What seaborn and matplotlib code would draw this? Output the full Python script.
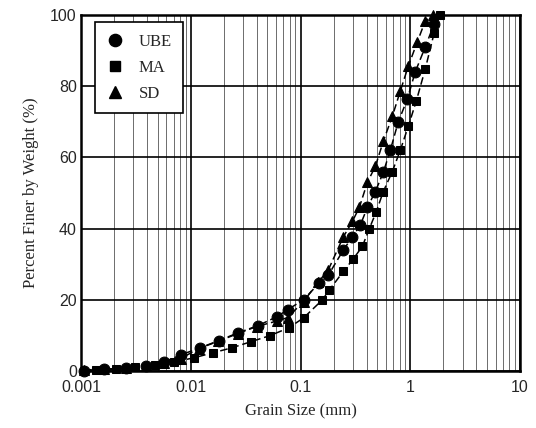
import numpy as np
import pandas as pd
import matplotlib
matplotlib.use("Agg")
import matplotlib.pyplot as plt
from matplotlib.lines import Line2D
from matplotlib.ticker import FixedLocator, LogLocator, NullFormatter
import seaborn as sns

# ---- data (grain size in mm, percent finer) ----
ube_size = [0.00107, 0.00162, 0.00257, 0.00390, 0.00568, 0.00811, 0.01207, 0.01797,
            0.0268, 0.0407, 0.0605, 0.0762, 0.1065, 0.1489, 0.1797, 0.246, 0.297,
            0.351, 0.407, 0.481, 0.568, 0.658, 0.778, 0.939, 1.11, 1.369, 1.653]
ube_pct = [0.0, 0.5, 0.8, 1.5, 2.5, 4.5, 6.5, 8.5, 10.7, 12.7, 15.2, 17.2, 20.0,
           24.8, 27.0, 34.0, 37.7, 41.0, 46.0, 50.4, 55.8, 62.0, 70.0, 76.3, 84.0,
           91.0, 97.5]

ma_size = [0.00137, 0.00208, 0.00310, 0.00471, 0.00701, 0.01065, 0.01585, 0.0236,
           0.0351, 0.0523, 0.0778, 0.1065, 0.1585, 0.1835, 0.246, 0.303, 0.366,
           0.424, 0.491, 0.568, 0.686, 0.811, 0.959, 1.134, 1.369, 1.653, 1.874]
ma_pct = [0.3, 0.5, 1.0, 1.7, 2.5, 3.7, 5.1, 6.5, 8.2, 9.9, 12.1, 14.9, 20.0, 22.8,
          28.0, 31.5, 35.0, 40.0, 44.8, 50.4, 56.0, 62.0, 68.7, 75.8, 84.8, 95.0, 100.0]

sd_size = [0.00107, 0.00162, 0.00257, 0.00390, 0.00568, 0.00811, 0.01182, 0.0176,
           0.0268, 0.0398, 0.0605, 0.0762, 0.1065, 0.1458, 0.1797, 0.246, 0.297,
           0.344, 0.407, 0.481, 0.568, 0.686, 0.811, 0.959, 1.158, 1.369, 1.619]
sd_pct = [0.3, 0.5, 0.8, 1.5, 2.3, 3.5, 6.3, 8.3, 10.5, 12.5, 14.0, 15.0, 19.5, 25.0,
          28.5, 37.7, 42.0, 46.0, 53.0, 57.5, 64.5, 71.5, 78.6, 85.6, 92.4, 98.3, 100.0]

series_names = ["UBE", "MA", "SD"]
x_ticks = [0.001, 0.01, 0.1, 1, 10]
x_tick_labels = ["0.001", "0.01", "0.1", "1", "10"]
y_ticks = [0, 20, 40, 60, 80, 100]

df = pd.concat([
    pd.DataFrame({"size": ube_size, "pct": ube_pct, "soil": "UBE"}),
    pd.DataFrame({"size": ma_size, "pct": ma_pct, "soil": "MA"}),
    pd.DataFrame({"size": sd_size, "pct": sd_pct, "soil": "SD"}),
], ignore_index=True)

sns.set_style("white")
plt.rcParams["font.family"] = ["Liberation Serif", "DejaVu Serif"]

fig = plt.figure(figsize=(5.36, 4.28), dpi=100)
ax = fig.add_axes([81 / 536, 1 - 371 / 428, (520 - 81) / 536, (371 - 15) / 428])

markers = {"UBE": "o", "MA": "s", "SD": "^"}
msizes = {"UBE": 7.8, "MA": 6.0, "SD": 7.2}
for name in series_names:
    sub = df[df["soil"] == name]
    sns.lineplot(data=sub, x="size", y="pct", ax=ax, color="black", sort=False,
                 estimator=None, linestyle=(0, (5, 2.5)), linewidth=1.1,
                 marker=markers[name], markersize=msizes[name],
                 markeredgecolor="black", markerfacecolor="black",
                 clip_on=False, zorder=5, legend=False)

ax.set_xscale("log")
ax.set_xlim(0.001, 10)
ax.set_ylim(0, 100)

ax.xaxis.set_major_locator(FixedLocator(x_ticks))
ax.set_xticklabels(x_tick_labels)
ax.xaxis.set_minor_locator(LogLocator(base=10, subs=np.arange(2, 10)))
ax.xaxis.set_minor_formatter(NullFormatter())
ax.set_yticks(y_ticks)
ax.set_yticklabels([str(v) for v in y_ticks])

ax.grid(True, which="major", axis="x", color="black", linewidth=1.2)
ax.grid(True, which="minor", axis="x", color="#555555", linewidth=0.6)
ax.grid(True, which="major", axis="y", color="black", linewidth=1.2)
ax.set_axisbelow(True)

for sp in ax.spines.values():
    sp.set_visible(True)
    sp.set_color("black")
    sp.set_linewidth(1.8)

ax.tick_params(axis="x", which="both", length=0, pad=6.5)
ax.tick_params(axis="y", which="both", length=0, pad=3)
for lab in ax.get_xticklabels() + ax.get_yticklabels():
    lab.set_family(["Liberation Sans", "DejaVu Sans"])
    lab.set_fontsize(11.5)

ax.set_xlabel("Grain Size (mm)", fontsize=12, labelpad=6)
ax.set_ylabel("Percent Finer by Weight (%)", fontsize=12, labelpad=8)

handles = [Line2D([], [], linestyle="none", marker=markers[n], markersize=msizes[n] + 1,
                  color="black") for n in series_names]
leg = ax.legend(handles, series_names, loc="upper left", bbox_to_anchor=(0.032, 0.980),
                frameon=True, fancybox=False, edgecolor="black", fontsize=12,
                handletextpad=0.9, labelspacing=0.6, borderpad=0.7, handlelength=1.0,
                borderaxespad=0)
leg.get_frame().set_linewidth(1.2)
leg.get_frame().set_facecolor("white")
leg.get_frame().set_alpha(1)
leg.set_zorder(10)

fig.savefig("out.png", dpi=100)
